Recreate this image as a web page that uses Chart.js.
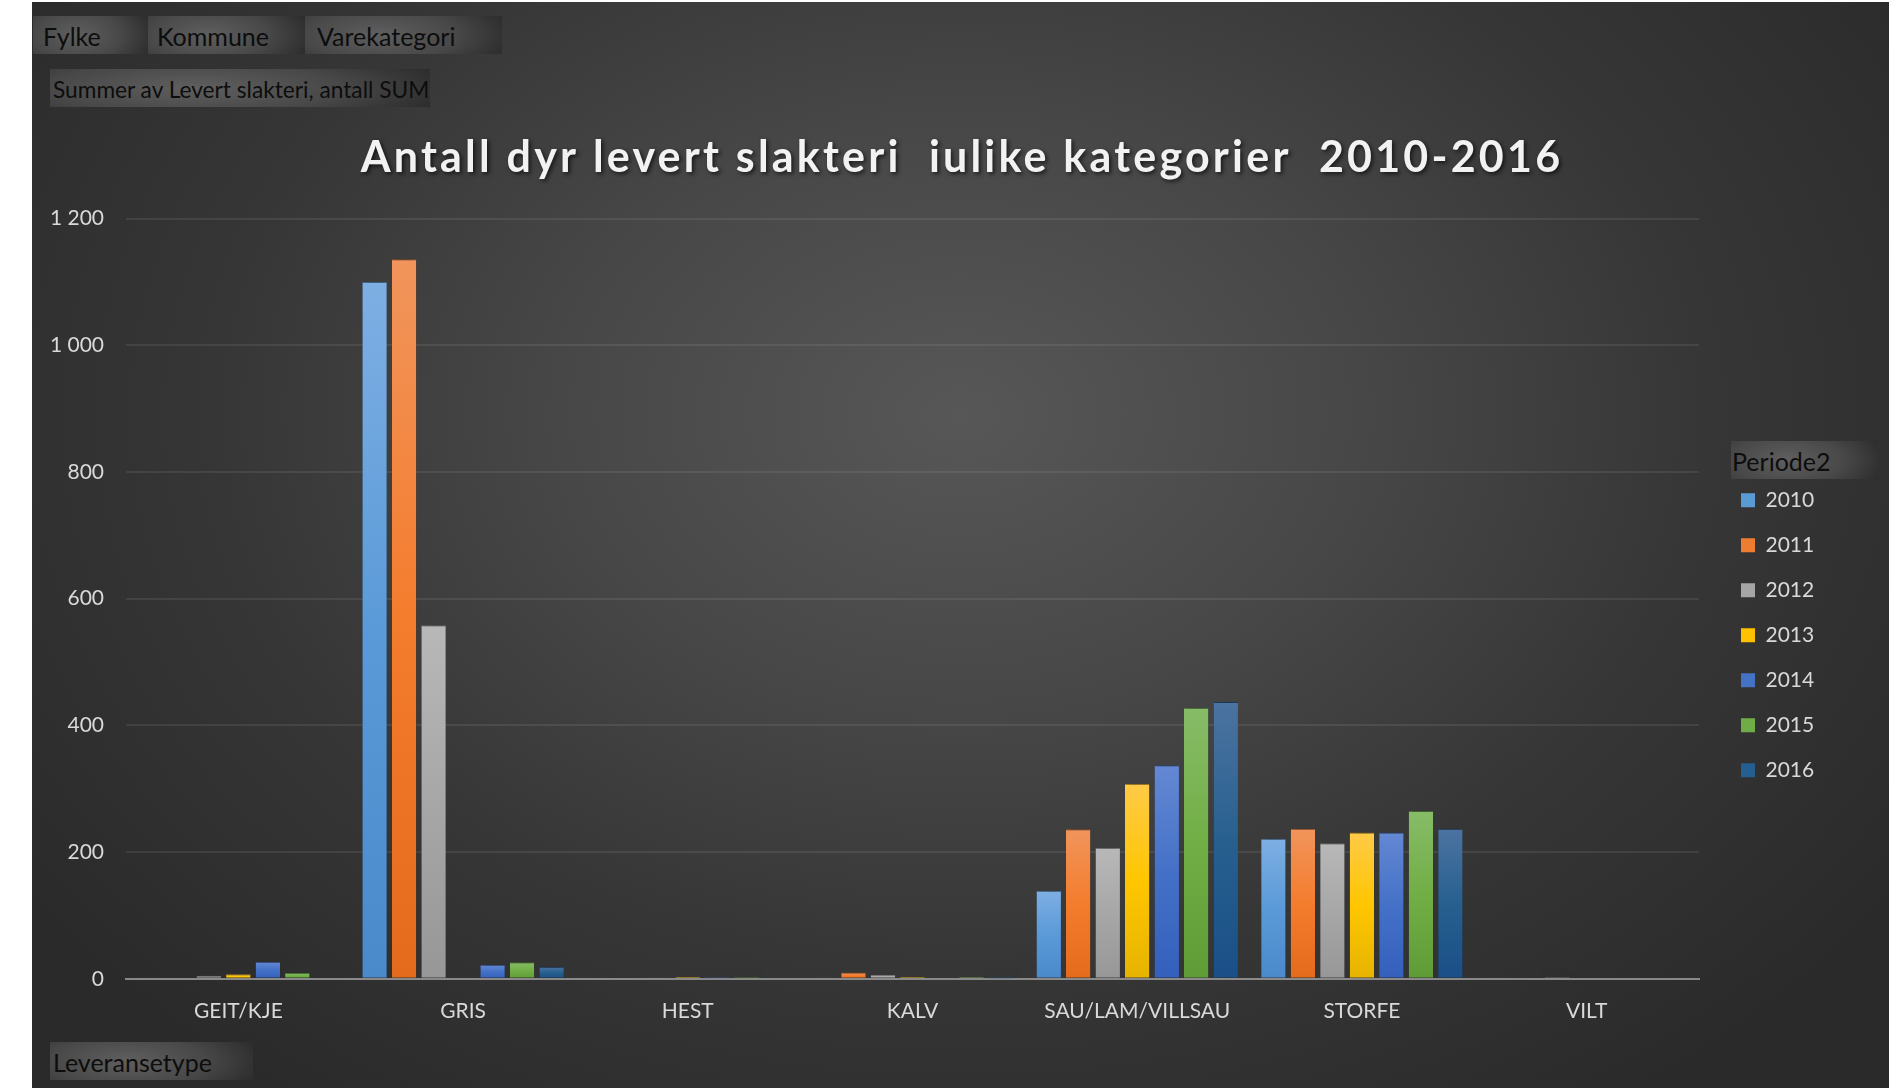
<!DOCTYPE html>
<html>
<head>
<meta charset="utf-8">
<script src="https://cdn.jsdelivr.net/npm/chart.js@4"></script>
<style>
  html, body { margin:0; padding:0; }
  body { width:1889px; height:1088px; overflow:hidden; position:relative; background:#ffffff; font-family: Lato, "Open Sans", sans-serif; }
  #panel { position:absolute; left:32px; top:2px; width:1857px; height:1086px;
    background: radial-gradient(ellipse 62% 78% at 50% 38%, #575757 0%, #474747 35%, #363636 65%, #2a2a2a 100%); }
  .btn { position:absolute; height:38px; line-height:41px; color:#0d0d0d; font-size:25px; white-space:nowrap; box-sizing:border-box;
    background: radial-gradient(ellipse 70% 120% at 38% 50%, #5f5f5f 0%, #484848 55%, #2b2b2b 100%); }
  canvas { position:absolute; left:0; top:0; }
</style>
</head>
<body>
<div id="panel"></div>
<div class="btn" style="left:33px;top:16px;width:115px;padding-left:10px;">Fylke</div>
<div class="btn" style="left:148px;top:16px;width:157px;padding-left:9px;">Kommune</div>
<div class="btn" style="left:305px;top:16px;width:197px;padding-left:12px;">Varekategori</div>
<div class="btn" style="left:50px;top:69px;width:380px;padding-left:3px;font-size:22.7px;">Summer av Levert slakteri, antall SUM</div>
<div class="btn" style="left:50px;top:1042px;width:203px;padding-left:3px;">Leveransetype</div>
<div class="btn" style="left:1731px;top:441px;width:147px;padding-left:1px;">Periode2</div>
<canvas id="c" width="1889" height="1088"></canvas>
<script>
// ---- Data ----
const categories = ['GEIT/KJE', 'GRIS', 'HEST', 'KALV', 'SAU/LAM/VILLSAU', 'STORFE', 'VILT'];
const seriesNames = ['2010', '2011', '2012', '2013', '2014', '2015', '2016'];
const v2010 = [2, 1100, 0, 2, 139, 221, 2];
const v2011 = [0, 1136, 0, 10, 236, 237, 0];
const v2012 = [5, 558, 2, 6, 207, 214, 1];
const v2013 = [7, 0, 3, 3, 308, 231, 0];
const v2014 = [27, 22, 1, 0, 337, 231, 2];
const v2015 = [9, 26, 1, 3, 428, 265, 0];
const v2016 = [0, 19, 0, 1, 437, 237, 0];
const yTicks = [0, 200, 400, 600, 800, 1000, 1200];
const chartTitle = 'Antall dyr levert slakteri  iulike kategorier  2010-2016';

// ---- Styles ----
const baseColors = ['#5b9bd5', '#ed7d31', '#a5a5a5', '#ffc000', '#4472c4', '#70ad47', '#255e91'];
const topColors  = ['#7eafe3', '#f1955c', '#b8b8b8', '#ffca48', '#6488d3', '#87bc68', '#4c73a1'];
const midColors  = ['#5a9ad8', '#f47c2d', '#a7a7a7', '#ffc600', '#4471c7', '#71ae45', '#27608f'];
const botColors  = ['#4a8acb', '#e46b1b', '#979797', '#e6b300', '#3460bd', '#5f9c37', '#1a4f87'];
const edgeColors = ['#4f7eac', '#b9602a', '#808080', '#b78f1c', '#3a5a98', '#557f3c', '#22476c'];
const values = [v2010, v2011, v2012, v2013, v2014, v2015, v2016];

function fillFor(i) {
  return (ctx) => {
    if (ctx.type !== 'data' || !ctx.chart.chartArea) return baseColors[i];
    const ys = ctx.chart.scales.y;
    const top = ys.getPixelForValue(ctx.raw);
    const bot = ys.getPixelForValue(0);
    if (!(bot - top > 1)) return baseColors[i];
    const g = ctx.chart.ctx.createLinearGradient(0, top, 0, bot);
    g.addColorStop(0, topColors[i]);
    g.addColorStop(0.5, midColors[i]);
    g.addColorStop(1, botColors[i]);
    return g;
  };
}

const datasets = seriesNames.map((name, i) => ({
  label: name,
  data: values[i],
  backgroundColor: fillFor(i),
  borderColor: edgeColors[i],
  borderWidth: {top: 1, left: 0, right: 0, bottom: 0},
  borderSkipped: 'start',
  categoryPercentage: 0.919,
  barPercentage: 0.83
}));

const fmt = (v) => String(v).replace(/\B(?=(\d{3})+(?!\d))/g, ' ');

const barShadow = {
  id: 'barShadow',
  beforeDatasetsDraw(chart) {
    const c = chart.ctx; c.save();
    c.shadowColor = 'rgba(0,0,0,0.55)'; c.shadowBlur = 9; c.shadowOffsetX = 1; c.shadowOffsetY = 0;
  },
  afterDatasetsDraw(chart) { chart.ctx.restore(); }
};

const FONT = 'Lato, "Open Sans", sans-serif';

const chart = new Chart(document.getElementById('c'), {
  type: 'bar',
  data: { labels: categories, datasets },
  plugins: [barShadow],
  options: {
    responsive: false,
    animation: false,
    layout: { padding: { left: 40, right: 5, top: 0, bottom: 44 } },
    plugins: {
      title: {
        display: true,
        text: chartTitle,
        color: '#f2f2f2',
        font: { family: FONT, size: 43, weight: 'bold' },
        padding: { top: 132, bottom: 35 }
      },
      legend: {
        display: true,
        position: 'right',
        align: 'start',
        fullSize: false,
        maxWidth: 100,
        title: { display: true, text: '', font: { family: FONT, size: 21 }, padding: { top: 222, bottom: 0 } },
        labels: {
          color: '#d9d9d9',
          font: { family: FONT, size: 21 },
          boxWidth: 14,
          boxHeight: 14,
          padding: 24,
          generateLabels(ch) {
            const items = Chart.defaults.plugins.legend.labels.generateLabels(ch);
            items.forEach((it, i) => { it.fillStyle = baseColors[i]; it.strokeStyle = baseColors[i]; it.lineWidth = 0; });
            return items;
          }
        }
      },
      tooltip: { enabled: false }
    },
    scales: {
      x: {
        grid: { display: false, drawTicks: false },
        border: { display: true, color: 'rgba(150,150,150,0.85)', width: 2 },
        ticks: { color: '#d9d9d9', font: { family: FONT, size: 21 }, padding: 20, maxRotation: 0, autoSkip: false }
      },
      y: {
        min: 0, max: 1200,
        afterBuildTicks: (s) => { s.ticks = yTicks.map(v => ({ value: v })); },
        afterFit: (s) => { s.width = 86; },
        grid: { color: 'rgba(255,255,255,0.08)', lineWidth: 2, drawTicks: false },
        border: { display: false },
        ticks: { color: '#d9d9d9', font: { family: FONT, size: 21 }, padding: 22, callback: (v) => fmt(v) }
      },
      gapInner: {
        position: 'right',
        weight: 0,
        display: true,
        grid: { display: false, drawTicks: false },
        border: { display: false },
        ticks: { display: false },
        afterFit: (s) => { s.width = 18; }
      },
      gapOuter: {
        position: 'right',
        weight: 3000,
        display: true,
        grid: { display: false, drawTicks: false },
        border: { display: false },
        ticks: { display: false },
        afterFit: (s) => { s.width = 67; }
      }
    }
  }
});

// Title shadow and letter spacing
const tb = chart.titleBlock;
if (tb) {
  const orig = tb.draw.bind(tb);
  tb.draw = function (area) {
    const c = chart.ctx; c.save();
    c.shadowColor = 'rgba(0,0,0,0.65)'; c.shadowBlur = 4; c.shadowOffsetX = 2; c.shadowOffsetY = 2;
    if ('letterSpacing' in c) c.letterSpacing = '3.2px';
    orig(area); c.restore();
  };
  chart.update('none');
}
</script>
</body>
</html>
